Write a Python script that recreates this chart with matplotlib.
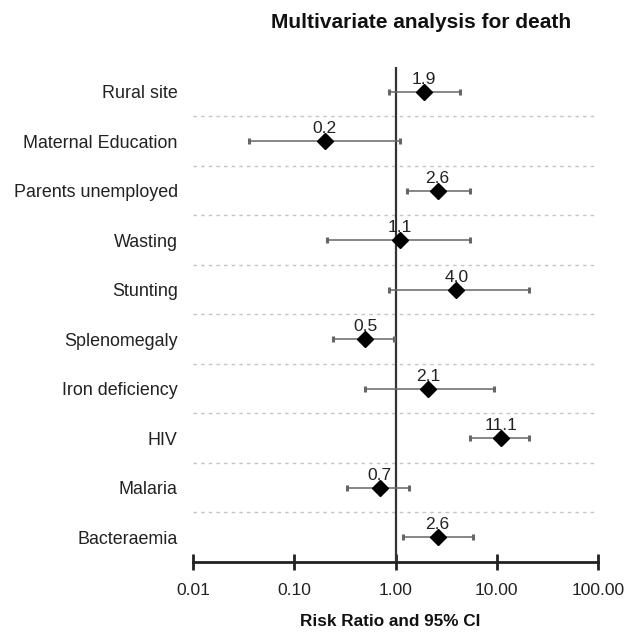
import matplotlib
matplotlib.use("Agg")
import matplotlib.pyplot as plt
import numpy as np

plt.rcParams['font.family'] = ['Liberation Sans', 'DejaVu Sans']

categories = ["Rural site", "Maternal Education", "Parents unemployed", "Wasting",
              "Stunting", "Splenomegaly", "Iron deficiency", "HIV", "Malaria", "Bacteraemia"]
rr = [1.9, 0.2, 2.6, 1.1, 4.0, 0.5, 2.1, 11.1, 0.7, 2.6]
ci_low = [0.87, 0.036, 1.30, 0.21, 0.87, 0.24, 0.50, 5.5, 0.33, 1.19]
ci_high = [4.3, 1.12, 5.4, 5.4, 20.7, 0.96, 9.4, 20.7, 1.36, 5.8]
rr_labels = ["1.9", "0.2", "2.6", "1.1", "4.0", "0.5", "2.1", "11.1", "0.7", "2.6"]
xticks = [0.01, 0.1, 1, 10, 100]
xtick_labels = ["0.01", "0.10", "1.00", "10.00", "100.00"]

W, H = 627, 632
fig = plt.figure(figsize=(W / 100, H / 100), dpi=100)
ax = fig.add_axes([193 / W, 1 - 562 / H, (598 - 193) / W, (562 - 67) / H])

ypos = np.arange(len(categories))
rr_a = np.array(rr)
err = np.vstack([rr_a - np.array(ci_low), np.array(ci_high) - rr_a])

# separators
for i in range(len(categories) - 1):
    ax.axhline(i + 0.5, color='#c4c4c4', lw=1.0, ls=(0, (2.5, 3)), zorder=1)

ax.axvline(1, color='#333333', lw=1.6, zorder=2)

eb = ax.errorbar(rr, ypos, xerr=err, fmt='none', ecolor='#666666', elinewidth=1.1,
                 capsize=2.3, capthick=2.2, zorder=3)
for cl in eb[1]:
    cl.set_color('#111111')
ax.plot(rr, ypos, ls='none', marker='D', ms=8, color='black', zorder=4)

for x, y, t in zip(rr, ypos, rr_labels):
    ax.annotate(t, (x, y), xytext=(0, 9), textcoords='offset points',
                ha='center', va='center', fontsize=12.5, color='#222222', zorder=5)

ax.set_xscale('log')
ax.set_xlim(0.01, 100)
ax.set_ylim(len(categories) - 0.5, -0.5)
ax.set_xticks(xticks)
ax.set_xticklabels(xtick_labels)
ax.xaxis.set_minor_locator(matplotlib.ticker.NullLocator())
ax.set_yticks(ypos)
ax.set_yticklabels(categories)

for s in ['top', 'right', 'left']:
    ax.spines[s].set_visible(False)
ax.spines['bottom'].set_linewidth(2.0)
ax.spines['bottom'].set_color('#222222')
ax.tick_params(axis='x', direction='inout', length=11, width=2.0, color='#222222',
               labelsize=12.6, pad=9.5, labelcolor='#222222')
ax.tick_params(axis='y', length=0, pad=11, labelsize=12.9, labelcolor='#222222')

fig.text(421 / W, 1 - 22 / H, "Multivariate analysis for death", ha='center', va='center',
         fontsize=15, fontweight='bold', color='#111111')
fig.text(390 / W, 1 - 621 / H, "Risk Ratio and 95% CI", ha='center', va='center',
         fontsize=12.3, fontweight='bold', color='#111111')

fig.savefig("out.png", dpi=100, facecolor='white')
